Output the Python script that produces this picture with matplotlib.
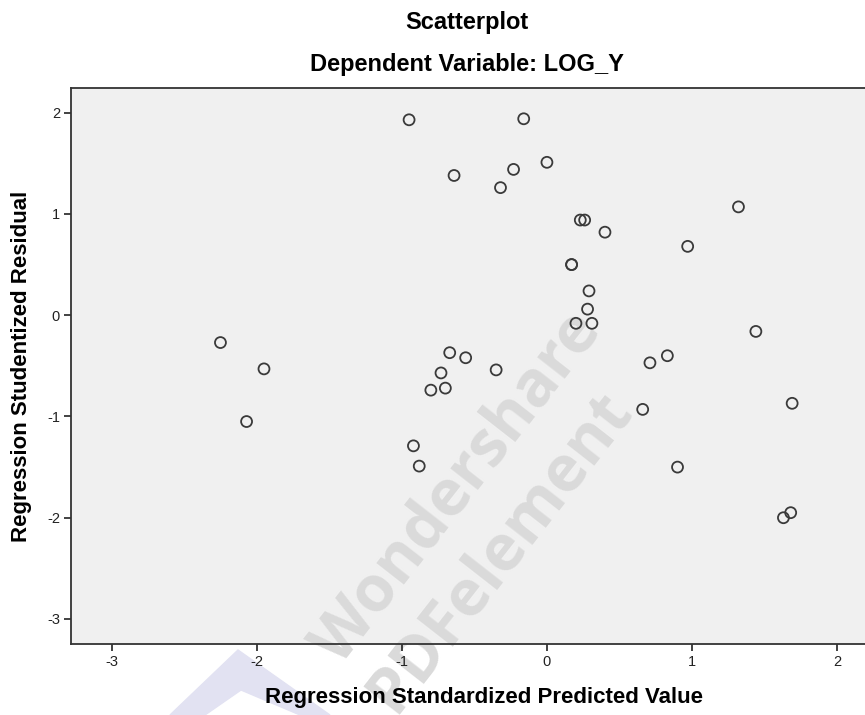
import matplotlib
matplotlib.use('Agg')
import matplotlib.pyplot as plt
from matplotlib.patches import Polygon

# predicted value (x) vs studentized residual (y)
pred = [-2.25, -1.95, -2.07, -0.95, -0.16, -0.64, -0.23, 0.00, -0.32,
        0.23, 0.26, 0.40, 0.17, 0.17, 0.29, 0.28, 0.20, 0.31,
        -0.67, -0.56, -0.73, -0.80, -0.70, -0.35, -0.92, -0.88,
        1.32, 0.97, 1.44, 0.83, 0.71, 0.66, 1.69, 0.90, 1.63, 1.68]
resid = [-0.27, -0.53, -1.05, 1.93, 1.94, 1.38, 1.44, 1.51, 1.26,
         0.94, 0.94, 0.82, 0.50, 0.50, 0.24, 0.06, -0.08, -0.08,
         -0.37, -0.42, -0.57, -0.74, -0.72, -0.54, -1.29, -1.49,
         1.07, 0.68, -0.16, -0.40, -0.47, -0.93, -0.87, -1.50, -2.00, -1.95]
xticks = [-3, -2, -1, 0, 1, 2]
yticks = [-3, -2, -1, 0, 1, 2]

fonts = ['Liberation Sans Narrow', 'Liberation Sans', 'DejaVu Sans']
plt.rcParams['font.family'] = fonts

W, H = 865, 715
fig = plt.figure(figsize=(W / 100, H / 100), dpi=100)

# plot area: left 71px, top 88px, bottom 644px, runs past right edge
x0, x1 = -3.28, 2.40
y0, y1 = -3.247, 2.244
left = 71 / W
width = (x1 - x0) * 145.1 / W
bottom = (H - 644) / H
height = (644 - 88) / H
ax = fig.add_axes([left, bottom, width, height])
ax.set_facecolor('#f0f0f0')
ax.set_xlim(x0, x1)
ax.set_ylim(y0, y1)

ax.scatter(pred, resid, s=62, facecolors='none', edgecolors='#3a3a3a',
           linewidths=1.3, zorder=3)

ax.set_xticks(xticks)
ax.set_yticks(yticks)
ax.set_xticklabels([str(t) for t in xticks])
ax.set_yticklabels([str(t) for t in yticks])
ax.tick_params(direction='out', length=5, width=1.2, colors='#222222',
               labelsize=10.5, pad=3)
for s in ax.spines.values():
    s.set_color('#333333')
    s.set_linewidth(1.3)

# watermark, kept under the points and tick labels
wm = dict(fontsize=46, fontweight='bold', color='#dadada', rotation=52,
          ha='center', va='center', family=['Open Sans', 'DejaVu Sans'],
          zorder=1, transform=fig.transFigure, clip_on=False)
ax.text(458 / W, 1 - 488 / H, 'Wondershare', **wm)
ax.text(500 / W, 1 - 552 / H, 'PDFelement', **wm)
logo = Polygon([(170 / W, 0), (238 / W, 1 - 650 / H), (330 / W, 0),
                (300 / W, 0), (241 / W, 1 - 690 / H), (205 / W, 0)],
               closed=True, transform=fig.transFigure, color='#e2e2f2',
               zorder=-1)
fig.patches.append(logo)

fig.text(467 / W, 1 - 22 / H, 'Scatterplot', ha='center', va='center',
         fontsize=17, fontweight='bold')
fig.text(467 / W, 1 - 65 / H, 'Dependent Variable: LOG_Y', ha='center',
         va='center', fontsize=17, fontweight='bold')
fig.text(484 / W, 1 - 698 / H, 'Regression Standardized Predicted Value',
         ha='center', va='center', fontsize=16, fontweight='bold')
fig.text(22 / W, 1 - 366 / H, 'Regression Studentized Residual',
         ha='center', va='center', rotation=90, fontsize=16,
         fontweight='bold')

fig.savefig('out.png', dpi=100)
